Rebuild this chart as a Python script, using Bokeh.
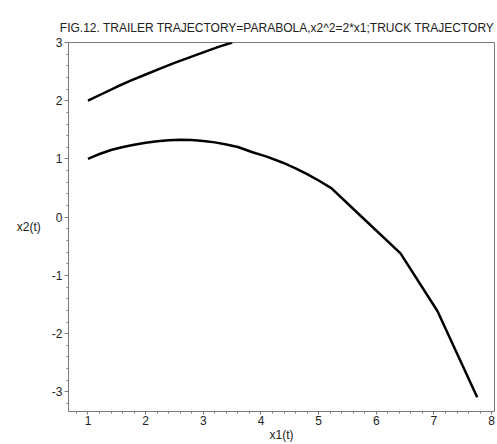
from bokeh.plotting import figure
from bokeh.models import Range1d, FixedTicker
from bokeh.embed import file_html
from bokeh.resources import INLINE

# Trailer trajectory (upper curve)
trailer_x1 = [1.0, 1.25, 1.5, 1.75, 2.0, 2.25, 2.5, 2.75, 3.0, 3.25, 3.5]
trailer_x2 = [2.0, 2.12, 2.24, 2.35, 2.45, 2.55, 2.65, 2.74, 2.83, 2.92, 3.0]

# Truck trajectory (lower curve)
truck_x1 = [1.0, 1.1, 1.2, 1.3, 1.4, 1.5, 1.65, 1.8, 2.0, 2.2, 2.4, 2.6, 2.8, 3.0, 3.2, 3.4,
            3.6, 3.84, 4.1, 4.37, 4.6, 4.8, 5.0, 5.22, 5.69, 6.42, 7.06, 7.75]
truck_x2 = [1.0, 1.045, 1.085, 1.12, 1.155, 1.18, 1.215, 1.245, 1.28, 1.305, 1.322, 1.33, 1.325,
            1.31, 1.285, 1.25, 1.205, 1.12, 1.04, 0.94, 0.84, 0.74, 0.63, 0.5, 0.06, -0.62, -1.61, -3.09]

x_ticks = [1, 2, 3, 4, 5, 6, 7, 8]
y_ticks = [-3, -2, -1, 0, 1, 2, 3]

title_text = "FIG.12. TRAILER TRAJECTORY=PARABOLA,x2^2=2*x1;TRUCK TRAJECTORY"

FONT = "Liberation Sans"
GREY = "#7a7a7a"
TXT = "#222222"

X_MIN, X_MAX = 0.662, 8.05
Y_MIN, Y_MAX = -3.336, 3.0

p = figure(width=497, height=444, output_backend="svg", toolbar_location=None,
           x_range=Range1d(X_MIN, X_MAX), y_range=Range1d(Y_MIN, Y_MAX),
           min_border_left=68, min_border_right=3, min_border_top=42, min_border_bottom=32)

p.line(trailer_x1, trailer_x2, line_color="black", line_width=2.5)
p.line(truck_x1, truck_x2, line_color="black", line_width=2.5)

p.title.text = title_text
p.title.align = "right"
p.title.vertical_align = "top"
p.title.text_font = FONT
p.title.text_font_size = "12px"
p.title.text_font_style = "normal"
p.title.text_color = TXT
p.title.standoff = 12

bottom_axis = p.below[0]
left_axis = p.left[0]

p.grid.visible = False
p.outline_line_color = GREY
p.outline_line_width = 1
p.background_fill_color = "white"
p.border_fill_color = "white"

x_minor = [round(0.8 + 0.2 * i, 2) for i in range(37) if round((0.8 + 0.2 * i) % 1, 2) not in (0.0, 1.0)]
y_minor = [round(-3.2 + 0.2 * i, 2) for i in range(31) if round((-3.2 + 0.2 * i) % 1, 2) not in (0.0, 1.0)]

for ax, ticks, minor in ((bottom_axis, x_ticks, x_minor), (left_axis, y_ticks, y_minor)):
    ax.ticker = FixedTicker(ticks=ticks, minor_ticks=minor)
    ax.major_label_overrides = {t: str(t) for t in ticks}
    ax.axis_line_color = GREY
    ax.major_tick_line_color = GREY
    ax.minor_tick_line_color = GREY
    ax.major_tick_out = 4
    ax.major_tick_in = 0
    ax.minor_tick_out = 2
    ax.minor_tick_in = 0
    ax.major_label_text_font = FONT
    ax.major_label_text_font_size = "12px"
    ax.major_label_text_color = TXT
    ax.major_label_text_line_height = 1.0
    ax.axis_label_text_font = FONT
    ax.axis_label_text_font_size = "12px"
    ax.axis_label_text_font_style = "normal"
    ax.axis_label_text_color = TXT
    ax.axis_label_text_line_height = 1.0

bottom_axis.major_tick_out = 3
bottom_axis.axis_label = "x1(t)"
left_axis.axis_label = "x2(t)"
left_axis.axis_label_orientation = "horizontal"
bottom_axis.major_label_standoff = 1
left_axis.major_label_standoff = 2
bottom_axis.axis_label_standoff = 0
left_axis.axis_label_standoff = 8

open("out.html", "w").write(file_html(p, INLINE))
